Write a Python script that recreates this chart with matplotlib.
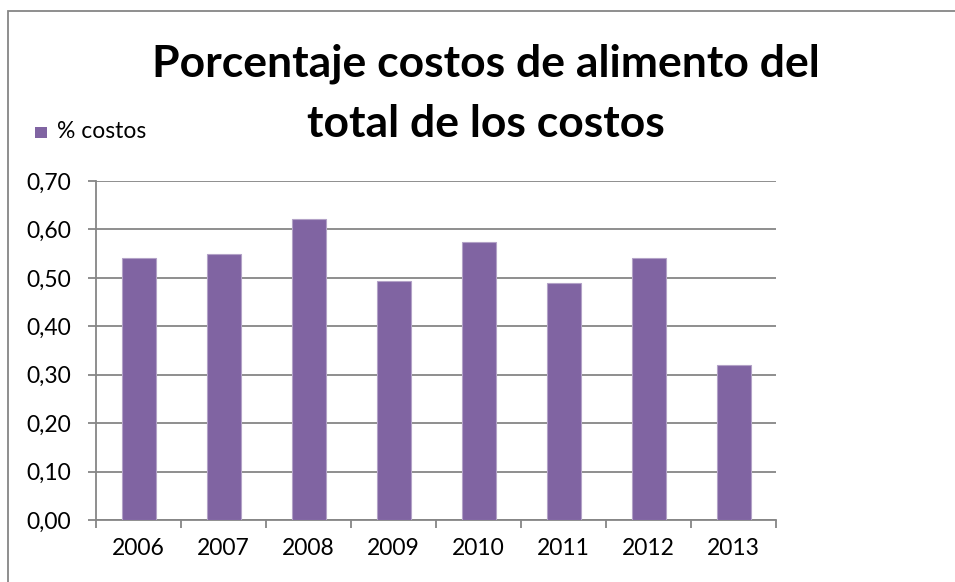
import matplotlib
matplotlib.use("Agg")
import matplotlib.pyplot as plt
from matplotlib.patches import Rectangle

# Datos
anios = ["2006", "2007", "2008", "2009", "2010", "2011", "2012", "2013"]
pct_costos = [0.54, 0.55, 0.622, 0.494, 0.575, 0.49, 0.54, 0.321]
y_ticks = [0.0, 0.1, 0.2, 0.3, 0.4, 0.5, 0.6, 0.7]
y_labels = ["0,00", "0,10", "0,20", "0,30", "0,40", "0,50", "0,60", "0,70"]
serie = "% costos"
titulo = "Porcentaje costos de alimento del\ntotal de los costos"

plt.rcParams["font.family"] = ["Lato", "DejaVu Sans"]

W, H = 955, 582
fig = plt.figure(figsize=(W / 100, H / 100), dpi=100)
fig.patch.set_facecolor("white")

gris = "#868686"
morado = "#8064A2"
fs = 16.5

# Marco exterior del gráfico
fig.add_artist(Rectangle((7.5 / W, -0.1), 1.2, (H - 10.5) / H + 0.1,
                         transform=fig.transFigure, fill=False,
                         edgecolor=gris, linewidth=1.3))

ax = fig.add_axes([96 / W, 1 - 520 / H, (776 - 96) / W, (520 - 181) / H])
x = list(range(len(anios)))
ax.bar(x, pct_costos, width=0.4, color=morado, edgecolor="#B3A2C7",
       linewidth=0.8, zorder=3)

ax.set_xlim(-0.5, len(anios) - 0.5)
ax.set_ylim(0, 0.7)
ax.set_yticks(y_ticks)
ax.set_yticklabels(y_labels, fontsize=fs)
ax.yaxis.grid(True, color=gris, linewidth=1.3, zorder=0)
ax.set_axisbelow(True)

# Marcas del eje X en los límites de cada categoría, etiquetas al centro
ax.set_xticks([i - 0.5 for i in range(len(anios) + 1)])
ax.set_xticklabels([])
ax.set_xticks(x, minor=True)
ax.set_xticklabels(anios, minor=True, fontsize=fs)
ax.tick_params(axis="x", which="major", length=6, width=1.3, color=gris)
ax.tick_params(axis="x", which="minor", length=0, pad=13)
ax.tick_params(axis="y", length=6, width=1.3, color=gris, pad=12)

for s in ["top", "right"]:
    ax.spines[s].set_visible(False)
for s in ["left", "bottom"]:
    ax.spines[s].set_color(gris)
    ax.spines[s].set_linewidth(1.3)

fig.text(486 / W, 1 - 94 / H, titulo, ha="center", va="center",
         fontsize=32, fontweight="bold", linespacing=1.6)

# Leyenda
fig.add_artist(Rectangle((35 / W, 1 - 138 / H), 12 / W, 11 / H,
                         transform=fig.transFigure, facecolor=morado,
                         edgecolor="none"))
fig.text(57 / W, 1 - 132 / H, serie, ha="left", va="center", fontsize=fs)

fig.savefig("out.png", dpi=100)
